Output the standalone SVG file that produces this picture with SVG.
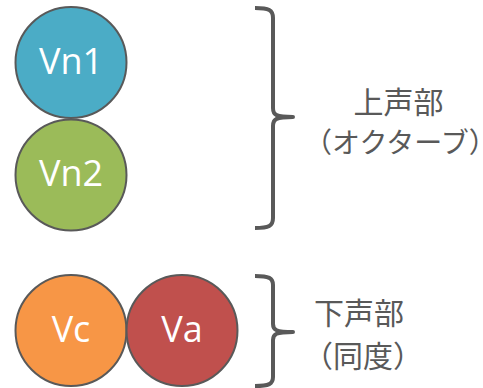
<svg xmlns="http://www.w3.org/2000/svg" width="483" height="388" viewBox="0 0 483 388">
<style>
.c{stroke:#595959;stroke-width:2}
.lbl{font-family:"Open Sans","Liberation Sans",sans-serif;font-size:36px;fill:#fff;text-anchor:middle}
.jp{font-family:"Noto Sans CJK JP",sans-serif;fill:#595959}
.h{font-feature-settings:"halt"}
.br{fill:none;stroke:#595959;stroke-width:4;stroke-linejoin:round}
</style>
<g id="vn1"><circle class="c" cx="71" cy="62.5" r="55.5" fill="#4BACC6"/><text class="lbl" x="71" y="74">Vn1</text></g>
<g id="vn2"><circle class="c" cx="71" cy="175" r="55.5" fill="#9BBB59"/><text class="lbl" x="71" y="186">Vn2</text></g>
<g id="vc"><circle class="c" cx="71" cy="330.5" r="55.5" fill="#F79646"/><text class="lbl" x="71" y="342">Vc</text></g>
<g id="va"><circle class="c" cx="182" cy="330.5" r="55.5" fill="#C0504D"/><text class="lbl" x="182" y="342">Va</text></g>
<g id="connectors">
<path class="br" d="M255 8 C269 8 273 10 273 18 V108 C273 115 276 117 293 117 C276 117 273 119 273 126 V218 C273 226 269 228 255 228"/>
<path class="br" d="M255 276 C269 276 273 278 273 285 V324 C273 330 276 332 293 332 C276 332 273 334 273 340 V377 C273 384 269 386 255 386"/>
</g>
<g id="upper"><text class="jp" x="398.5" y="113" font-size="30" text-anchor="middle">上声部</text><text class="jp" x="304" y="153" font-size="28">（オクターブ<tspan class="h">）</tspan></text></g>
<g id="lower"><text class="jp" x="314" y="324" font-size="30">下声部</text><text class="jp" x="303" y="367" font-size="30">（同度<tspan class="h">）</tspan></text></g>
</svg>
